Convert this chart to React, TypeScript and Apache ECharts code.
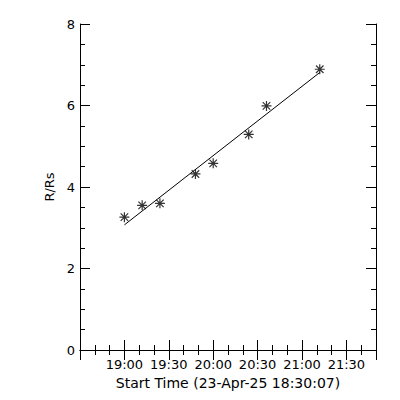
import React, { useEffect, useRef } from "react";
import * as echarts from "echarts";

// Observation times (HH:MM) and heights (R/Rs)
const times: string[] = ["19:00", "19:12", "19:24", "19:48", "20:00", "20:24", "20:36", "21:12"];
const heights: number[] = [3.26, 3.55, 3.6, 4.32, 4.58, 5.29, 5.99, 6.89];
// Linear-fit line endpoints
const fitTimes: string[] = ["19:00", "21:12"];
const fitHeights: number[] = [3.07, 6.81];

const xMinTime = "18:30";
const xMaxTime = "21:50";
const yTickLabels: string[] = ["0", "2", "4", "6", "8"];
const xTitle = "Start Time (23-Apr-25 18:30:07)";
const yTitle = "R/Rs";

const toMin = (s: string) => {
  const [h, m] = s.split(":").map(Number);
  return h * 60 + m;
};
const pad = (n: number) => (n < 10 ? "0" + n : "" + n);
const fmt = (v: number) => pad(Math.floor(v / 60)) + ":" + pad(Math.round(v % 60));

const FONT = "DejaVu Sans";

export default function App() {
  const ref = useRef<HTMLDivElement>(null);
  useEffect(() => {
    if (!ref.current) return;
    const chart = echarts.init(ref.current, undefined, { renderer: "svg" });
    const xmin = toMin(xMinTime);
    const xmax = toMin(xMaxTime);
    const black = "#000";
    const xBase = (pos: "bottom" | "top", interval: number, len: number, main: boolean) => ({
      type: "value" as const,
      position: pos,
      min: xmin,
      max: xmax,
      interval,
      axisLine: { show: main, lineStyle: { color: black, width: 1 } },
      axisTick: { show: true, inside: true, length: len, lineStyle: { color: black, width: 1 } },
      axisLabel: {
        show: main && pos === "bottom",
        color: black,
        fontFamily: FONT,
        fontSize: 13,
        margin: 8,
        formatter: (v: number) => (v === xmin || v % 30 !== 0 ? "" : fmt(v)),
      },
      splitLine: { show: false },
      name: main && pos === "bottom" ? xTitle : "",
      nameLocation: "middle" as const,
      nameGap: 22,
      nameTextStyle: { color: black, fontFamily: FONT, fontSize: 14 },
    });
    const yBase = (pos: "left" | "right", interval: number, len: number, main: boolean) => ({
      type: "value" as const,
      position: pos,
      min: 0,
      max: 8,
      interval,
      axisLine: { show: main, lineStyle: { color: black, width: 1 } },
      axisTick: { show: true, inside: true, length: len, lineStyle: { color: black, width: 1 } },
      axisLabel: {
        show: main && pos === "left",
        color: black,
        fontFamily: FONT,
        fontSize: 13,
        margin: 5,
        formatter: (v: number) => yTickLabels[Math.round(v / 2)] ?? "",
      },
      splitLine: { show: false },
      name: main && pos === "left" ? yTitle : "",
      nameLocation: "middle" as const,
      nameGap: 22,
      nameTextStyle: { color: black, fontFamily: FONT, fontSize: 13 },
    });
    const star = "path://M0,-4L0,4M-4,0L4,0M-3,-3L3,3M-3,3L3,-3";
    chart.setOption({
      animation: false,
      backgroundColor: "#fff",
      grid: { left: 80, right: 24, top: 24, bottom: 50, containLabel: false },
      xAxis: [
        xBase("bottom", 30, 10, true),
        xBase("bottom", 10, 5, false),
        xBase("top", 30, 10, true),
        xBase("top", 10, 5, false),
      ],
      yAxis: [
        yBase("left", 2, 10, true),
        yBase("left", 0.5, 5, false),
        yBase("right", 2, 10, true),
        yBase("right", 0.5, 5, false),
      ],
      series: [
        {
          type: "line",
          xAxisIndex: 0,
          yAxisIndex: 0,
          data: fitTimes.map((t, i) => [toMin(t), fitHeights[i]]),
          showSymbol: false,
          lineStyle: { color: black, width: 1 },
          silent: true,
        },
        {
          type: "scatter",
          xAxisIndex: 0,
          yAxisIndex: 0,
          data: times.map((t, i) => [toMin(t), heights[i]]),
          symbol: star,
          symbolSize: 10,
          itemStyle: { color: "transparent", borderColor: black, borderWidth: 1.2 },
        },
      ],
    });
    return () => chart.dispose();
  }, []);
  return (
    <div
      ref={ref}
      style={{ position: "fixed", left: 0, top: 0, width: 400, height: 400, background: "#fff" }}
    />
  );
}
